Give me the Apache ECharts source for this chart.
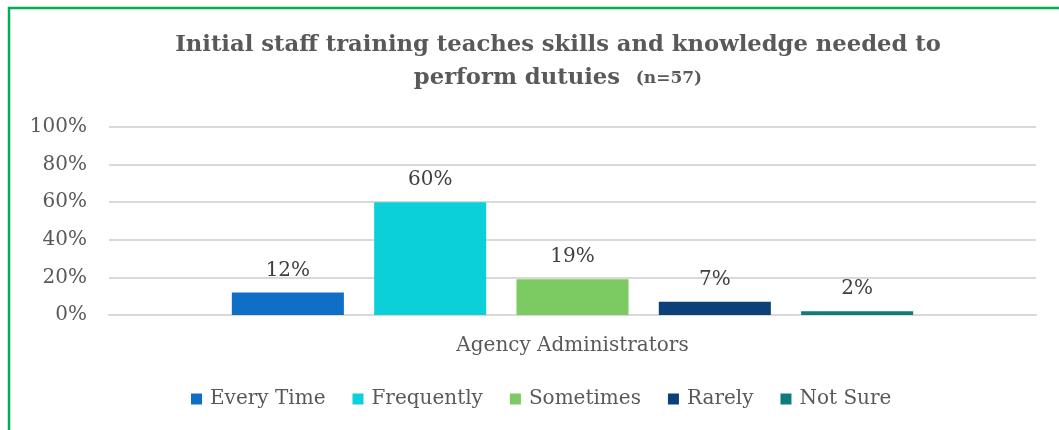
<!DOCTYPE html>
<html>
<head>
<meta charset="utf-8">
<script src="https://cdn.jsdelivr.net/npm/echarts@6/dist/echarts.min.js"></script>
<style>
  html, body { margin: 0; padding: 0; background: #ffffff; }
  #chart { width: 1059px; height: 430px; }
</style>
</head>
<body>
<div id="chart"></div>
<script>
// Survey responses, percent of respondents
const categories = ['Agency Administrators'];
const seriesNames = ['Every Time', 'Frequently', 'Sometimes', 'Rarely', 'Not Sure'];
const seriesValues = [12, 60, 19, 7, 2];
const seriesColors = ['#0f6fc6', '#0bd0d9', '#7cca62', '#0c4079', '#0f7b7d'];
const yTicks = { min: 0, max: 100, interval: 20 };

const serif = '"DejaVu Serif", "Liberation Serif", serif';
const textGray = '#595959';

const chart = echarts.init(document.getElementById('chart'));

chart.setOption({
  animation: false,
  backgroundColor: '#ffffff',
  graphic: [{
    type: 'rect',
    shape: { x: 9, y: 8, width: 1060, height: 440 },
    style: { fill: 'none', stroke: '#00b050', lineWidth: 2.5 },
    silent: true
  }],
  title: {
    text: '{m|Initial staff training teaches skills and knowledge needed to}\n{m|perform dutuies  }{s|(n=57)}',
    left: 553,
    textAlign: 'center',
    top: 24,
    textStyle: {
      rich: {
        m: { fontFamily: serif, fontWeight: 'bold', fontSize: 22.7, color: textGray, lineHeight: 33 },
        s: { fontFamily: serif, fontWeight: 'bold', fontSize: 17, color: textGray, lineHeight: 33 }
      }
    }
  },
  legend: {
    bottom: 16,
    left: 186,
    itemWidth: 11,
    itemHeight: 11,
    itemGap: 27,
    icon: 'rect',
    textStyle: { fontFamily: serif, fontSize: 20, color: textGray, padding: [0, 0, 0, 3] },
    data: seriesNames
  },
  grid: { left: 109, right: 23, top: 127, bottom: 115 },
  xAxis: {
    type: 'category',
    data: categories,
    axisLine: { show: true, lineStyle: { color: '#d9d9d9', width: 2 } },
    axisTick: { show: false },
    axisLabel: { fontFamily: serif, fontSize: 20, color: textGray, margin: 21 }
  },
  yAxis: {
    type: 'value',
    min: yTicks.min,
    max: yTicks.max,
    interval: yTicks.interval,
    axisLine: { show: false },
    axisTick: { show: false },
    splitLine: { lineStyle: { color: '#d9d9d9', width: 2 } },
    axisLabel: { formatter: '{value}%', fontFamily: serif, fontSize: 20, color: textGray, margin: 22 }
  },
  series: seriesNames.map((name, i) => ({
    name: name,
    type: 'bar',
    data: [seriesValues[i]],
    itemStyle: { color: seriesColors[i] },
    barGap: '27%',
    barCategoryGap: '26.5%',
    label: {
      show: true,
      position: 'top',
      distance: 12,
      formatter: '{c}%',
      fontFamily: serif,
      fontSize: 20,
      color: '#404040'
    }
  }))
});
</script>
</body>
</html>
